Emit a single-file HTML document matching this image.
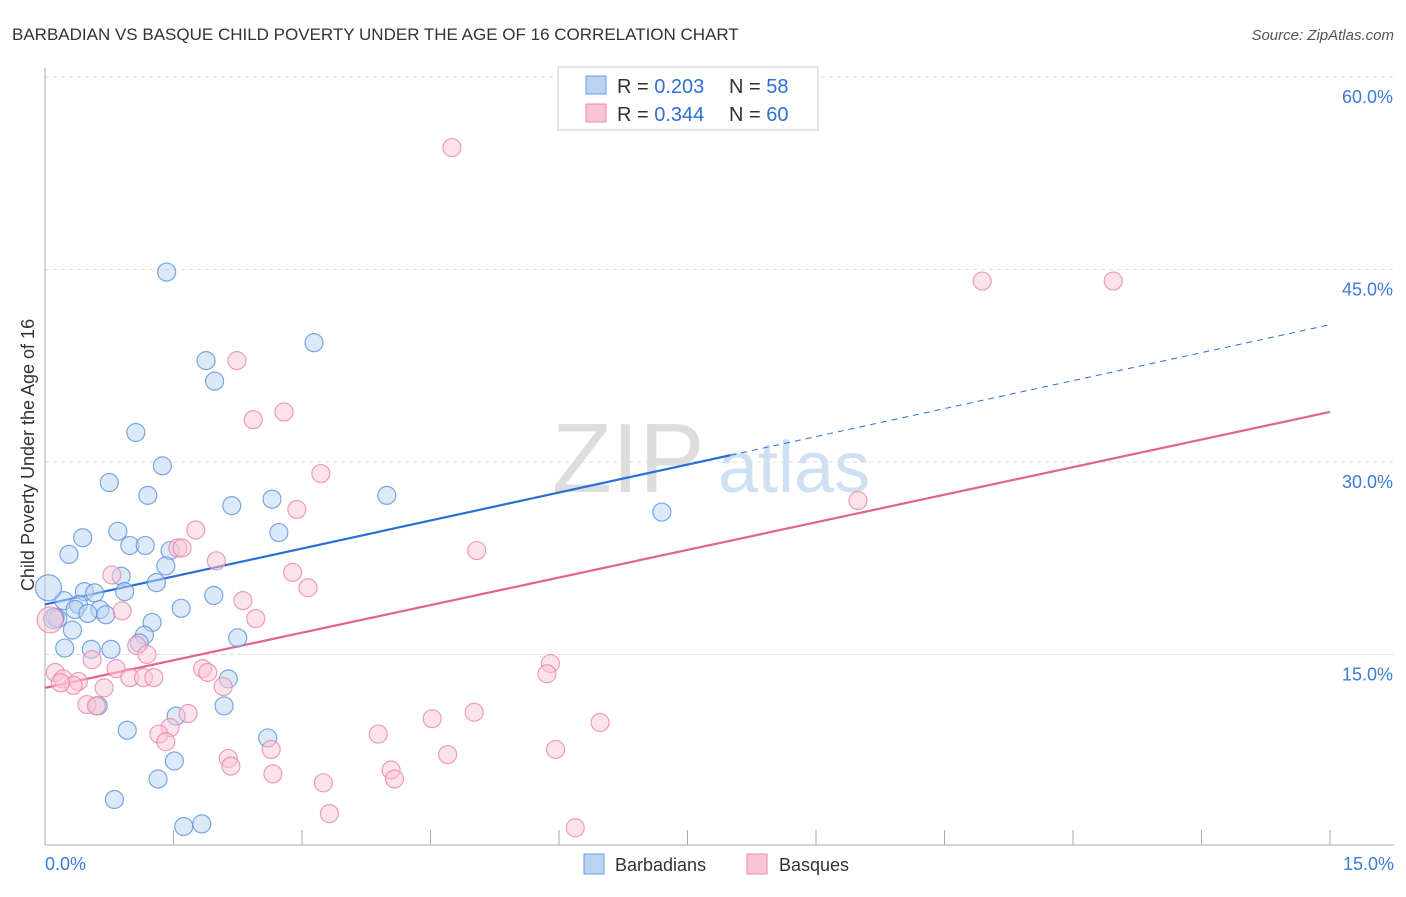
<!DOCTYPE html>
<html><head><meta charset="utf-8"><style>
body{margin:0;background:#fff;font-family:"Liberation Sans",sans-serif;}
svg text{font-family:"Liberation Sans",sans-serif;}
</style></head><body>
<svg id="chart" width="1406" height="892" xmlns="http://www.w3.org/2000/svg">
<text x="12" y="40" font-size="17" fill="#333">BARBADIAN VS BASQUE CHILD POVERTY UNDER THE AGE OF 16 CORRELATION CHART</text>
<text x="1394" y="40" font-size="15" fill="#555" text-anchor="end" font-style="italic">Source: ZipAtlas.com</text>
<g>
<text x="552" y="492" font-size="98" fill="#ddd" font-family="Liberation Serif,serif">ZIP</text>
<text x="718" y="492" font-size="72" fill="#cfe0f3">atlas</text>
</g>
<g id="grid"></g>
<g id="axes"></g>
<g id="trend"></g>
<g id="points"></g>
<text transform="translate(34,455) rotate(-90)" font-size="18" fill="#333" text-anchor="middle">Child Poverty Under the Age of 16</text>
<g>
<rect x="558" y="67" width="260" height="63" fill="#fff" stroke="#ccc"/>
<rect x="586" y="76" width="20" height="18" fill="#b9d3f3" stroke="#6a9fe0"/>
<rect x="586" y="104" width="20" height="18" fill="#f9c5d5" stroke="#ea8aaa"/>
<text x="617" y="93" font-size="20" fill="#333">R = <tspan fill="#2f6fd6">0.203</tspan></text>
<text x="729" y="93" font-size="20" fill="#333">N = <tspan fill="#2f6fd6">58</tspan></text>
<text x="617" y="121" font-size="20" fill="#333">R = <tspan fill="#2f6fd6">0.344</tspan></text>
<text x="729" y="121" font-size="20" fill="#333">N = <tspan fill="#2f6fd6">60</tspan></text>
</g>
<g>
<rect x="584" y="854" width="20" height="20" fill="#b9d3f3" stroke="#6a9fe0"/>
<text x="615" y="871" font-size="18" fill="#333">Barbadians</text>
<rect x="747" y="854" width="20" height="20" fill="#f9c5d5" stroke="#ea8aaa"/>
<text x="779" y="871" font-size="18" fill="#333">Basques</text>
</g>
</svg>
<script>
const yTicks=[15,30,45,60];
const yTickLabels=["15.0%","30.0%","45.0%","60.0%"];
const xTickCount=11;
const blueX=[1.42,3.14,1.88,1.98,1.06,1.37,0.75,1.20,2.65,3.99,2.18,7.20,2.73,0.85,0.44,0.99,1.17,1.46,0.28,1.41,0.89,1.30,0.46,0.58,0.93,1.97,0.22,0.39,0.35,0.64,1.59,0.50,0.71,0.12,0.15,1.25,0.32,1.16,2.25,1.10,0.23,0.77,0.54,2.14,2.09,0.62,1.53,0.96,2.60,1.51,1.32,0.81,1.62,1.83,0.04,0.10];
const blueY=[44.8,39.3,37.9,36.3,32.3,29.7,28.4,27.4,27.1,27.4,26.6,26.1,24.5,24.6,24.1,23.5,23.5,23.1,22.8,21.9,21.1,20.6,19.9,19.8,19.9,19.6,19.2,18.9,18.5,18.5,18.6,18.2,18.1,17.9,17.8,17.5,16.9,16.5,16.3,15.9,15.5,15.4,15.4,13.1,11.0,11.0,10.2,9.1,8.5,6.7,5.3,3.7,1.6,1.8,20.2,17.8];
const blueR=[9,9,9,9,9,9,9,9,9,9,9,9,9,9,9,9,9,9,9,9,9,9,9,9,9,9,9,9,9,9,9,9,9,9,9,9,9,9,9,9,9,9,9,9,9,9,9,9,9,9,9,9,9,9,13,10];
const pinkX=[4.75,10.94,12.47,2.24,2.79,2.43,3.22,9.49,2.94,1.76,1.55,1.60,5.04,2.00,2.89,0.78,3.07,2.31,0.90,2.46,1.07,1.19,0.55,5.90,5.86,1.84,1.90,0.83,0.12,0.21,0.99,1.15,1.27,0.39,0.33,0.18,2.08,0.69,0.49,0.60,1.67,5.01,4.52,6.48,1.46,1.33,3.89,1.41,5.96,2.64,4.70,2.14,2.17,4.04,2.66,4.08,3.25,3.32,6.19,0.06];
const pinkY=[54.5,44.1,44.1,37.9,33.9,33.3,29.1,27.0,26.3,24.7,23.3,23.3,23.1,22.3,21.4,21.2,20.2,19.2,18.4,17.8,15.7,15.0,14.6,14.3,13.5,13.9,13.6,13.9,13.6,13.1,13.2,13.2,13.2,12.9,12.6,12.8,12.5,12.4,11.1,11.0,10.4,10.5,10.0,9.7,9.3,8.8,8.8,8.2,7.6,7.6,7.2,6.9,6.3,6.0,5.7,5.3,5.0,2.6,1.5,17.7];
const pinkR=[9,9,9,9,9,9,9,9,9,9,9,9,9,9,9,9,9,9,9,9,9,9,9,9,9,9,9,9,9,9,9,9,9,9,9,9,9,9,9,9,9,9,9,9,9,9,9,9,9,9,9,9,9,9,9,9,9,9,9,13];
const blueTrend=[18.9,40.7];
const blueSolidEnd=8.0;
const pinkTrend=[12.4,33.9];
const NS="http://www.w3.org/2000/svg";
const X=v=>45+v/15*1285;
const Y=v=>847-v/60*770;
function mk(tag,attrs,parent){const e=document.createElementNS(NS,tag);for(const k in attrs)e.setAttribute(k,attrs[k]);document.getElementById(parent).appendChild(e);return e;}
yTicks.forEach((t,i)=>{
 const l=mk('line',{x1:45,x2:1394,y1:Y(t),y2:Y(t),stroke:'#ddd','stroke-dasharray':'4,4'},'grid');
 
 
 const tx=mk('text',{x:1393,y:Y(t)+26,'font-size':18,fill:'#3b7bd8','text-anchor':'end'},'grid');
 tx.textContent=yTickLabels[i];
 
 
});
const ax=mk('line',{x1:45,x2:45,y1:68,y2:845,stroke:'#aaa'},'axes');


const bx=mk('line',{x1:45,x2:1394,y1:845,y2:845,stroke:'#aaa'},'axes');


for(let i=0;i<xTickCount;i++){const xv=X(i*1.5);
 const t=mk('line',{x1:xv,x2:xv,y1:830,y2:845,stroke:'#aaa'},'axes');
 
 }
const xl0=mk('text',{x:45,y:870,'font-size':18,fill:'#3b7bd8'},'axes');xl0.textContent='0.0%';


const xl1=mk('text',{x:1394,y:870,'font-size':18,fill:'#3b7bd8','text-anchor':'end'},'axes');xl1.textContent='15.0%';


function drawPts(xs,ys,rs,fill,stroke,name){xs.forEach((x,i)=>{
 const c=mk('circle',{cx:X(x),cy:Y(ys[i]),r:rs[i],fill:fill,'fill-opacity':0.5,stroke:stroke,'stroke-opacity':0.8,'stroke-width':1.2},'points');
 
 });}
drawPts(blueX,blueY,blueR,'#b9d3f3','#5b92dc','barbadian-point');
drawPts(pinkX,pinkY,pinkR,'#f9c5d5','#e888a6','basque-point');
const bAt=x=>blueTrend[0]+(blueTrend[1]-blueTrend[0])*x/15;
const b1=mk('line',{x1:X(0),y1:Y(bAt(0)),x2:X(blueSolidEnd),y2:Y(bAt(blueSolidEnd)),stroke:'#2a6fd6','stroke-width':2.2},'trend');


const b2=mk('line',{x1:X(blueSolidEnd),y1:Y(bAt(blueSolidEnd)),x2:X(15),y2:Y(bAt(15)),stroke:'#2a6fd6','stroke-width':1,'stroke-dasharray':'6,5'},'trend');


const p1=mk('line',{x1:X(0),y1:Y(pinkTrend[0]),x2:X(15),y2:Y(pinkTrend[1]),stroke:'#e4628e','stroke-width':2.2},'trend');


</script>
</body></html>
